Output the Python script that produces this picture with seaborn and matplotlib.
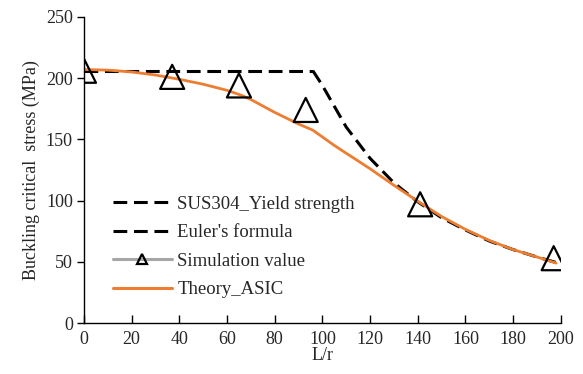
import matplotlib
matplotlib.use("Agg")
import matplotlib.pyplot as plt
import seaborn as sns
import pandas as pd
from matplotlib.lines import Line2D

# yield strength plateau
yield_x = [0, 96]
yield_y = [206, 206]

# Euler's formula curve
euler_x = [96, 100, 110, 120, 130, 140, 150, 160, 170, 180, 190, 198]
euler_y = [206, 194, 160, 134.5, 114.5, 99, 86, 76, 67, 60, 54, 49.5]

# simulation points
sim_x = [0, 37, 65, 93, 141, 197]
sim_y = [206, 201, 194, 174, 97, 53]

# Theory_ASIC curve
asic_x = [0, 10, 20, 30, 40, 50, 60, 66, 70, 80, 90, 96, 105, 120, 130, 140, 150, 160, 170, 180, 190, 198]
asic_y = [207, 206.5, 205, 202.5, 199, 195, 190, 186, 182.5, 172, 162.5, 157.5, 145, 126, 112.5, 99.5, 87, 76.5, 67.5, 60, 54, 49]

sns.set_style("white")
plt.rcParams['font.family'] = ['Liberation Serif', 'DejaVu Serif']

dash = (0, (4.5, 2.2))
orange = '#ED7D31'

fig = plt.figure(figsize=(5.83, 3.74), dpi=100)
ax = fig.add_axes([0.144, 0.136, 0.818, 0.819])

sns.lineplot(x=yield_x, y=yield_y, ax=ax, color='black', lw=2.2, linestyle=dash)
sns.lineplot(x=euler_x, y=euler_y, ax=ax, color='black', lw=2.2, linestyle=dash, sort=False)
sns.lineplot(x=asic_x, y=asic_y, ax=ax, color=orange, lw=2)
sns.scatterplot(x=sim_x, y=sim_y, ax=ax, marker='^', s=300, facecolor='none',
                edgecolor='black', linewidth=1.6, zorder=5)

ax.set_xlim(0, 200)
ax.set_ylim(0, 250)
ax.set_xticks(range(0, 201, 20))
ax.set_yticks(range(0, 251, 50))
ax.tick_params(axis='x', direction='in', length=6, width=1, labelsize=13, pad=6,
               color='black', bottom=True)
ax.tick_params(axis='y', direction='out', length=5, width=1, labelsize=13, pad=3,
               left=True, color='black')
for s in ['top', 'right']:
    ax.spines[s].set_visible(False)
for s in ['left', 'bottom']:
    ax.spines[s].set_color('black')
    ax.spines[s].set_linewidth(1)

ax.set_xlabel('L/r', fontsize=13, labelpad=-1)
ax.set_ylabel('Buckling critical  stress (MPa)', fontsize=13, labelpad=4)

handles = [
    Line2D([], [], color='black', lw=2.2, linestyle=dash),
    Line2D([], [], color='black', lw=2.2, linestyle=dash),
    Line2D([], [], color='#A6A6A6', lw=2.2, marker='^', markersize=7,
           markerfacecolor='none', markeredgecolor='black', markeredgewidth=1.6),
    Line2D([], [], color=orange, lw=2.2),
]
labels = ['SUS304_Yield strength', "Euler's formula", 'Simulation value', 'Theory_ASIC']
ax.legend(handles, labels, loc='upper left', bbox_to_anchor=(0.046, 0.44), frameon=False,
          fontsize=13.5, handlelength=3.1, handletextpad=0.3, labelspacing=0.6, borderaxespad=0)

fig.savefig('out.png', dpi=100)
